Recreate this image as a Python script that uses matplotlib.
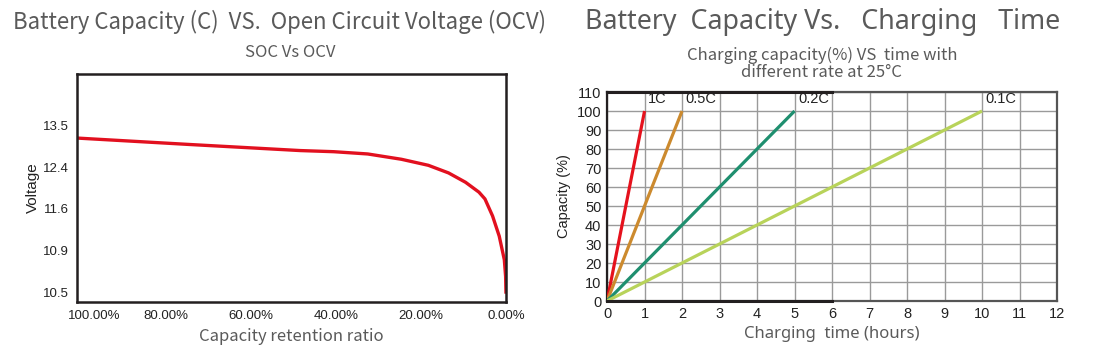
import numpy as np
import matplotlib
matplotlib.use("Agg")
import matplotlib.pyplot as plt
import matplotlib.transforms as mtransforms

# ---- Data: SOC vs OCV ----
soc_capacity = [100.8, 74.3, 48.4, 40.5, 32.5, 24.6, 18.25, 13.5, 9.5, 6.35, 4.94, 3.15, 1.58, 0.38, 0.08, 0]
soc_voltage = [13.17, 13.00, 12.84, 12.81, 12.75, 12.61, 12.45, 12.29, 12.11, 11.92, 11.79, 11.48, 11.14, 10.81, 10.65, 10.5]
volt_ticks = [10.5, 10.9, 11.6, 12.4, 13.5]
cap_ticks = [100, 80, 60, 40, 20, 0]
cap_ticklabels = ["100.00%", "80.00%", "60.00%", "40.00%", "20.00%", "0.00%"]

# ---- Data: charging capacity vs time ----
rates = ["1C", "0.5C", "0.2C", "0.1C"]
full_hours = [1, 2, 5, 10]
cap_start = [0, 0, 0, 0]
cap_end = [100, 100, 100, 100]
rate_colors = ["#e5121d", "#cc8a2e", "#1f8f6f", "#b8d35a"]

TXT = "#5a5a5a"

fig = plt.figure(figsize=(10.93, 3.61), dpi=100)

# piecewise-linear voltage scale (evenly spaced uneven ticks)
V = np.array(volt_ticks, dtype=float)
P = np.arange(len(V), dtype=float)

def fwd(v):
    v = np.asarray(v, dtype=float)
    out = np.interp(v, V, P)
    out = np.where(v < V[0], (v - V[0]) / (V[1] - V[0]), out)
    out = np.where(v > V[-1], P[-1] + (v - V[-1]) / (V[-1] - V[-2]), out)
    return out

def inv(p):
    p = np.asarray(p, dtype=float)
    out = np.interp(p, P, V)
    out = np.where(p < 0, V[0] + p * (V[1] - V[0]), out)
    out = np.where(p > P[-1], V[-1] + (p - P[-1]) * (V[-1] - V[-2]), out)
    return out

ax1 = fig.add_axes([0.0704, 0.1634, 0.3925, 0.6316])
ax1.set_yscale("function", functions=(fwd, inv))
ax1.plot(soc_capacity, soc_voltage, color="#e2101f", lw=2.4, solid_joinstyle="round")
ax1.set_xlim(100.9, 0)
ax1.set_ylim(float(inv(-0.24)), float(inv(5.24)))
ax1.set_yticks(volt_ticks)
ax1.set_yticklabels([f"{v:.1f}" for v in volt_ticks])
ax1.yaxis.set_minor_locator(matplotlib.ticker.NullLocator())
ax1.set_xticks(cap_ticks)
ax1.set_xticklabels(cap_ticklabels)
ax1.tick_params(length=0, labelsize=9.5, labelcolor="#222222", pad=6)
for lab in ax1.get_xticklabels() + ax1.get_yticklabels():
    lab.set_family("Liberation Sans")
first = ax1.get_xticklabels()[0]
first.set_transform(first.get_transform() + mtransforms.ScaledTranslation(0.13, 0, fig.dpi_scale_trans))
for s in ax1.spines.values():
    s.set_linewidth(1.8)
    s.set_color("#231f20")
ax1.set_ylabel("Voltage", family="Liberation Sans", fontsize=11, color="#222222", labelpad=2)
ax1.set_xlabel("Capacity retention ratio", family="Noto Sans CJK SC", fontsize=12,
               weight="medium", color=TXT, labelpad=4)

# ---- Right chart ----
ax2 = fig.add_axes([0.5554, 0.1662, 0.4117, 0.5789])
for r, h, c0, c1, col in zip(rates, full_hours, cap_start, cap_end, rate_colors):
    ax2.plot([0, h], [c0, c1], color=col, lw=2.3, zorder=3, solid_capstyle="butt")
    ax2.text(h + 0.1, c1 + 2.5, r, family="Liberation Sans", fontsize=10.5, color="#222222",
             ha="left", va="bottom", zorder=4)
ax2.set_xlim(0, 12)
ax2.set_ylim(0, 110)
ax2.set_xticks(range(0, 13))
ax2.set_yticks(range(0, 111, 10))
ax2.grid(True, color="#9a9a9a", lw=1.0, zorder=1)
ax2.tick_params(length=0, labelsize=10.5, labelcolor="#222222", pad=4)
for lab in ax2.get_xticklabels() + ax2.get_yticklabels():
    lab.set_family("Liberation Sans")
for name, s in ax2.spines.items():
    s.set_linewidth(1.6)
    s.set_color("#555555")
ax2.spines["left"].set_color("#231f20")
ax2.axhline(110, xmin=0, xmax=0.5, color="#231f20", lw=2.2, zorder=5, clip_on=False)
ax2.axhline(0, xmin=0, xmax=0.5, color="#231f20", lw=2.2, zorder=5, clip_on=False)
ax2.set_ylabel("Capacity (%)", family="Liberation Sans", fontsize=10.5, color="#222222", labelpad=4)
ax2.set_xlabel("Charging  time (hours)", family="Noto Sans", fontsize=12, color=TXT, labelpad=4)

# ---- Titles ----
fig.text(0.0115, 0.94, "Battery Capacity (C)  VS.  Open Circuit Voltage (OCV)",
         family="Noto Sans CJK SC", fontsize=16, weight="medium", color=TXT, ha="left", va="center")
fig.text(0.266, 0.855, "SOC Vs OCV", family="Noto Sans CJK SC", fontsize=12,
         weight="medium", color=TXT, ha="center", va="center")
fig.text(0.535, 0.94, "Battery  Capacity Vs.   Charging   Time",
         family="Noto Sans", fontsize=19.3, color=TXT, ha="left", va="center")
fig.text(0.752, 0.823, "Charging capacity(%) VS  time with\ndifferent rate at 25°C",
         family="Noto Sans CJK SC", fontsize=12, color=TXT, ha="center", va="center",
         linespacing=1.0)

fig.savefig("out.png", dpi=100)
